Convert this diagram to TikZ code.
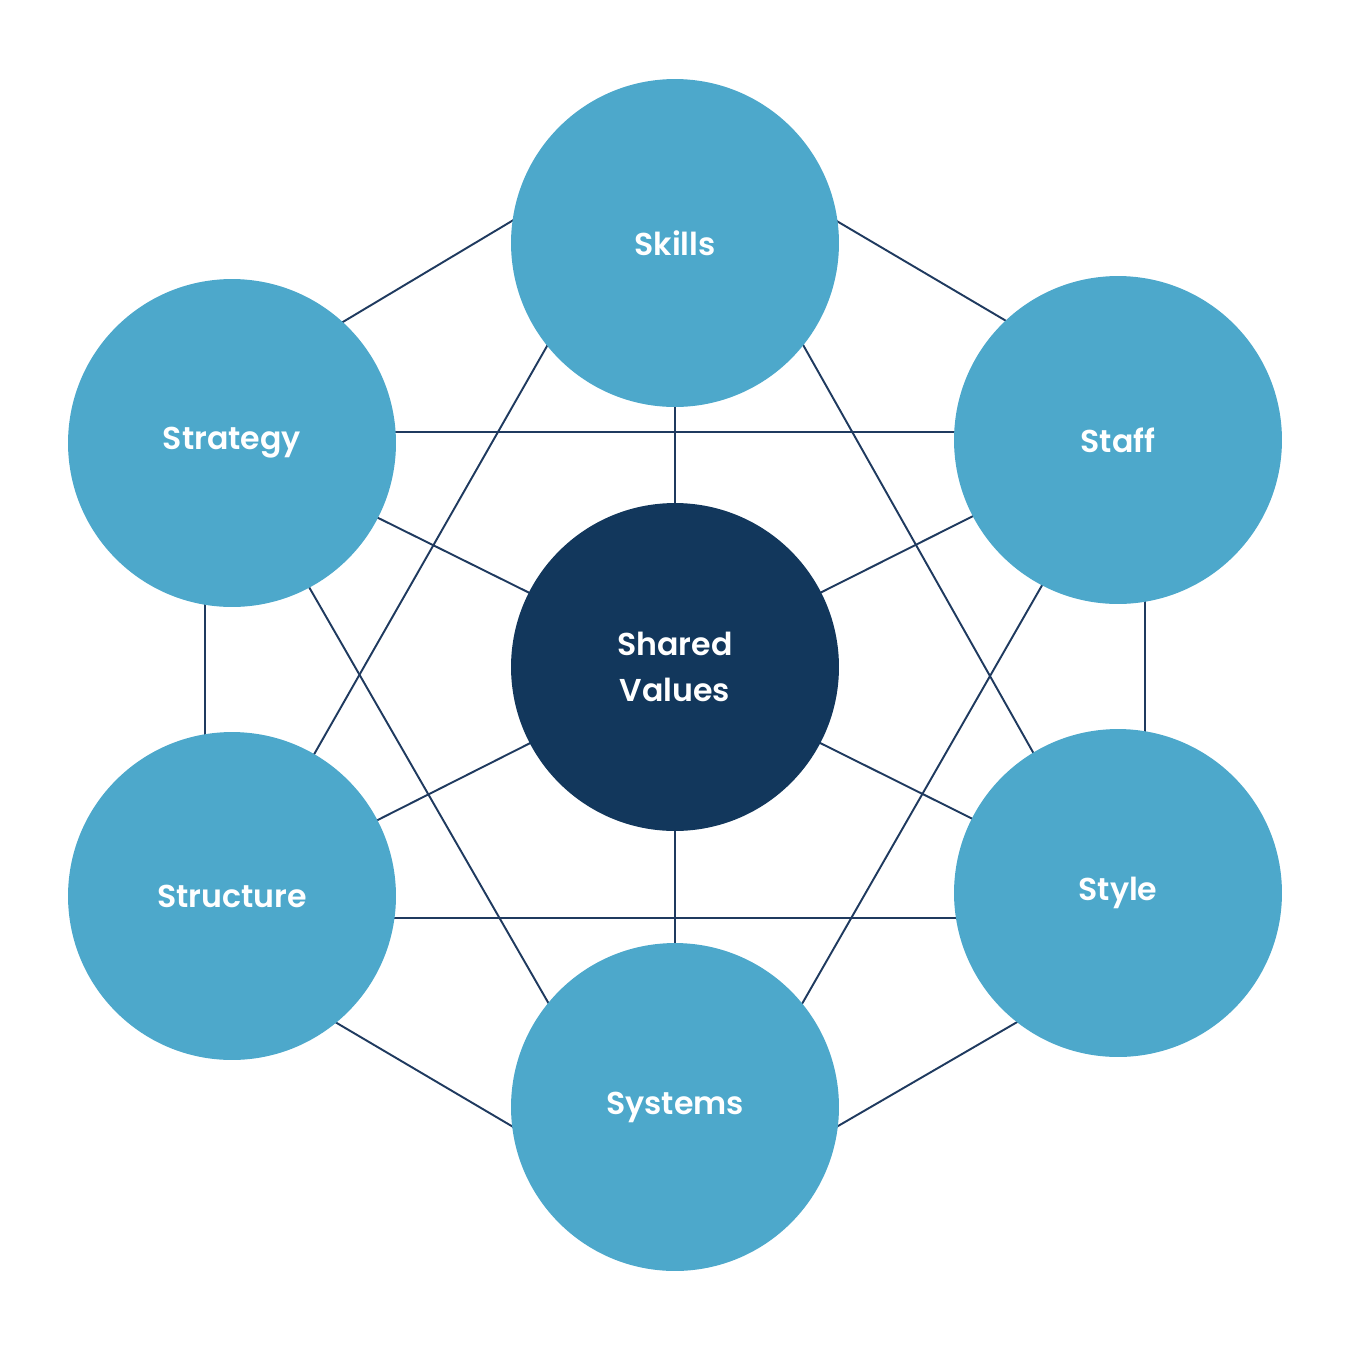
\documentclass[tikz,border=0pt]{standalone}
\usepackage{fontspec}
\setmainfont{Poppins}[UprightFont=* SemiBold]
\definecolor{lblue}{HTML}{4DA8CB}
\definecolor{dblue}{HTML}{12375C}
\definecolor{lnc}{HTML}{1F3A5F}
\begin{document}
\begin{tikzpicture}[x=0.02cm,y=-0.02cm,
  ball/.style={circle,fill=lblue,minimum size=6.56cm,inner sep=0pt,text=white,font=\fontsize{18}{26}\selectfont,align=center},
  link/.style={draw=lnc,line width=1.1pt}]
\useasboundingbox (0,0) rectangle (1350,1350);
% connector end points
\foreach \n/\x/\y in {a1/552/197,a2/301/347,b1/796/197,b2/1047/345,c1/554/1151,c2/291/996,d1/795/1151,d2/1062/996,
 e1/571/304,e2/292/793,f1/780/304,f2/1056/793,g1/286/547,g2/572/1044,h1/1064/547,h2/779/1044,
 i1/340/499,i2/566/611,j1/1007/499,j2/784/611,k1/340/839,k2/566/725,l1/1007/836,l2/784/725,
 m1/675/243,m2/675/1107,n1/1145/440,n2/1145/893,o1/205/443,o2/205/896,p1/232/432,p2/1118/432,q1/232/918,q2/1118/918}
  \coordinate (\n) at (\x,\y);
\foreach \s in {a,b,c,d,e,f,g,h,i,j,k,l,m,n,o,p,q} \draw[link] (\s1) -- (\s2);
\node[ball] (skills) at (675,243) {Skills};
\node[ball] (staff) at (1118,440) {Staff};
\node[ball] (style) at (1118,893) {Style};
\node[ball] (systems) at (675,1107) {Systems};
\node[ball] (structure) at (232,896) {Structure};
\node[ball] (strategy) at (232,443) {Strategy};
\node[ball,fill=dblue] (shared) at (675,667) {Shared\\Values};
\end{tikzpicture}
\end{document}
